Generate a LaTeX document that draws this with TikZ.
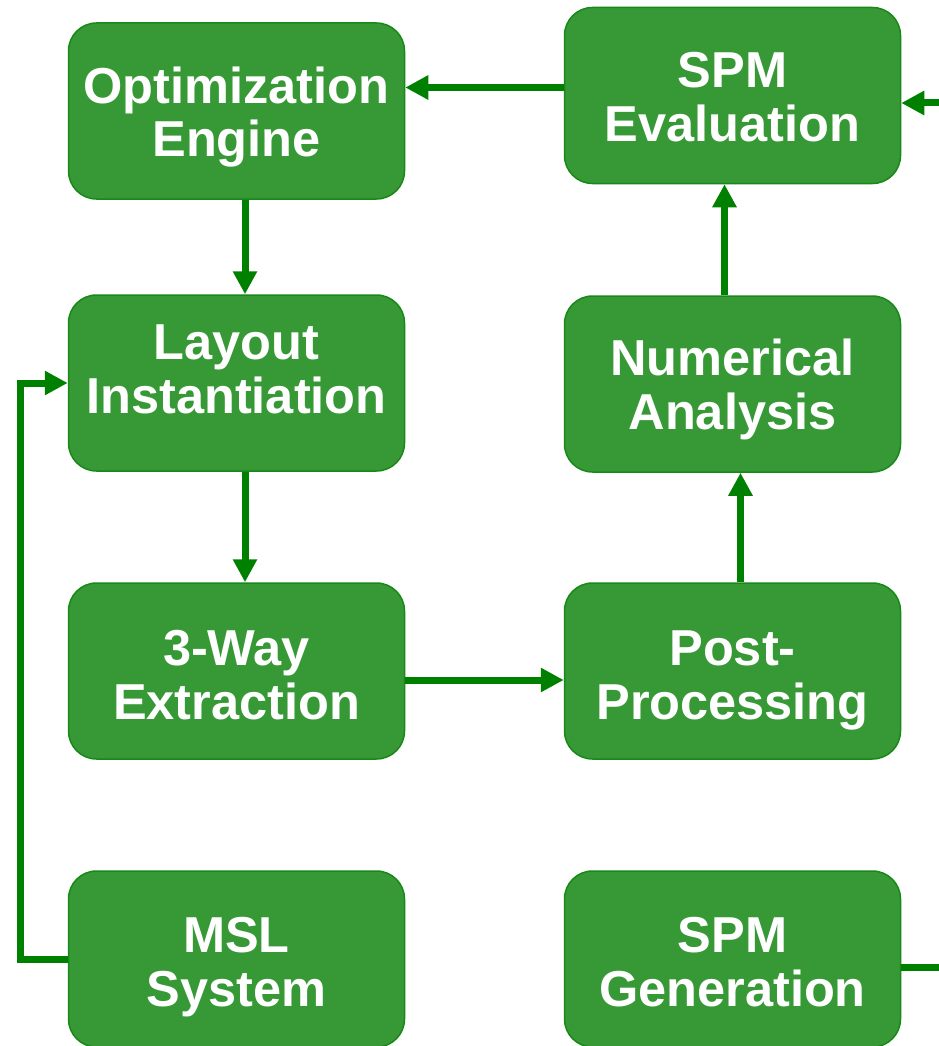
\documentclass[tikz,border=0pt]{standalone}
\usepackage{fontspec}
\setmainfont{Liberation Sans}
\usetikzlibrary{arrows.meta}
\definecolor{boxfill}{RGB}{54,153,54}
\definecolor{boxline}{RGB}{24,136,24}
\definecolor{linkgreen}{RGB}{0,128,0}
% two-line caption with fixed top and bottom struts, so its centre sits 14pt below the first baseline
\newcommand{\twolines}[2]{\rule{0pt}{40pt}#1\\#2\rule[-14pt]{0pt}{14pt}}
\begin{document}
\begin{tikzpicture}[x=1pt,y=-1pt,
  stage/.style={draw=boxline, line width=1.5pt, fill=boxfill, rounded corners=28pt,
    minimum width=336pt, minimum height=176pt, inner sep=0pt},
  caption/.style={inner sep=0pt, align=center, text=white,
    font=\fontsize{50.5}{54}\selectfont\bfseries},
  link/.style={draw=linkgreen, line width=7pt,
    -{Triangle[length=23pt,width=23pt]}}]
\useasboundingbox (0,0) rectangle (938,1046);

% process stages
\node[stage] (opt)    at (236.5,111)   {};
\node[stage] (eval)   at (732.5,95.5)  {};
\node[stage] (layout) at (236.5,383)   {};
\node[stage] (num)    at (732.5,384)   {};
\node[stage] (extr)   at (236.5,671)   {};
\node[stage] (post)   at (732.5,671)   {};
\node[stage] (msl)    at (236.5,959)   {};
\node[stage] (gen)    at (732.5,959)   {};

% stage captions
\node[caption] (optT)    at ([yshift=-6pt]opt.center)    {\twolines{Optimization}{Engine}};
\node[caption] (evalT)   at ([yshift=-6.5pt]eval.center) {\twolines{SPM}{Evaluation}};
\node[caption] (layoutT) at ([yshift=10pt]layout.center) {\twolines{Layout}{Instantiation}};
\node[caption] (numT)    at ([yshift=-5pt]num.center)    {\twolines{Numerical}{Analysis}};
\node[caption] (extrT)   at ([yshift=-8pt]extr.center)   {\twolines{3-Way}{Extraction}};
\node[caption] (postT)   at ([yshift=-8pt]post.center)   {\twolines{Post-}{Processing}};
\node[caption] (mslT)    at ([yshift=-7pt]msl.center)    {\twolines{MSL}{System}};
\node[caption] (genT)    at ([yshift=-7pt]gen.center)    {\twolines{SPM}{Generation}};

% main flow
\draw[link] ([yshift=8pt]eval.west) -- ([yshift=8pt]eval.west -| opt.east);
\draw[link] ([xshift=8.5pt]opt.south) -- ([xshift=8.5pt]layout.north);
\draw[link] ([xshift=8.5pt]layout.south) -- ([xshift=8.5pt]extr.north);
\draw[link] ([yshift=-9pt]extr.east) -- ([yshift=-9pt]post.west);
\draw[link] ([xshift=8pt]post.north) -- ([xshift=8pt]post.north |- num.south);
\draw[link] ([xshift=-8pt]num.north) -- ([xshift=-8pt]num.north |- eval.south);

% feedback loops
\coordinate (lturn) at (20,959);
\draw[link] (msl.west) -- (lturn) |- (layout.west);
\coordinate (rturn) at (990,967);
\draw[link] ([yshift=-8pt]gen.east) -- (rturn) |- ([yshift=-7.5pt]eval.east);
\end{tikzpicture}
\end{document}
